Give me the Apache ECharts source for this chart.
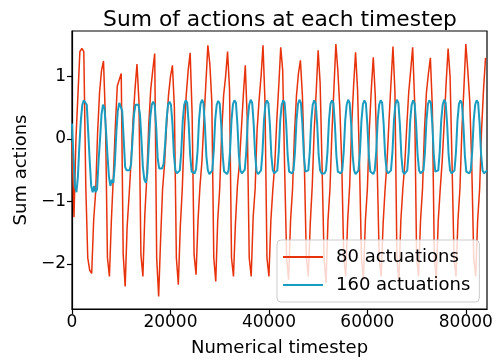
<!DOCTYPE html>
<html>
<head>
<meta charset="utf-8">
<script src="https://cdn.jsdelivr.net/npm/echarts@6/dist/echarts.min.js"></script>
<style>
  html, body { margin: 0; padding: 0; background: #fff; }
  #chart { width: 496px; height: 362px; }
</style>
</head>
<body>
<div id="chart"></div>
<script>
// Summed action signal, 80 actuations: one held value per 400 timesteps
const redStep = 400;
const actions80 = [
  -0.05, -1.25, 0.0, 0.7, 1.4, 1.45, 1.4, -0.75, -1.9, -2.1,
  -2.15, -1.3, -0.85, 0.1, 0.75, 1.1, 1.25, 0.3, -1.9, -2.2,
  -1.3, -0.6, 0.2, 0.85, 0.95, 1.05, -1.85, -2.36, -1.4, -0.9,
  -0.35, 0.3, 0.8, 1.2, 0.6, -1.85, -2.2, -1.2, -0.6, 0.25,
  0.8, 1.1, 1.37, -1.9, -2.52, -1.6, -0.8, -0.4, 0.2, 0.7,
  1.0, 1.18, 0.5, -1.9, -2.33, -1.4, -0.8, 0.1, 0.7, 1.1,
  1.38, 0.4, -1.85, -2.17, -1.3, -0.75, -0.35, 0.3, 0.9, 1.5,
  1.2, 0.6, -1.9, -2.28, -1.3, -0.8, 0.1, 0.7, 1.0, 1.4,
  0.8, -1.9, -2.2, -1.35, -0.75, -0.4, 0.15, 0.7, 1.18, 0.3,
  -1.9, -2.2, -1.25, -0.8, 0.15, 0.62, 1.0, 1.5, 0.6, -1.9,
  -2.2, -1.3, -0.8, -0.4, 0.3, 0.85, 1.47, 1.1, -0.5, -1.9,
  -2.25, -1.3, -0.8, 0.1, 0.7, 1.05, 1.26, 0.7, -0.4, -1.9,
  -2.2, -1.35, -0.75, 0.15, 0.75, 1.42, 0.9, -0.45, -1.9, -2.3,
  -1.3, -0.8, 0.1, 0.8, 1.52, 1.1, 0.5, -0.4, -1.9, -2.2,
  -1.3, -0.75, 0.2, 0.85, 1.39, 0.8, -0.4, -1.9, -2.25, -1.3,
  -0.8, 0.15, 0.8, 1.31, 0.7, -0.45, -1.9, -2.2, -1.35, -0.8,
  -0.35, 0.3, 0.9, 1.48, 0.75, -1.9, -2.3, -1.3, -0.8, -0.4,
  0.2, 0.75, 1.1, 1.47, 0.6, -1.9, -2.2, -1.3, -0.8, 0.15,
  0.75, 1.05, 1.3, 0.5, -1.9, -2.25, -1.3, -0.8, -0.35, 0.25,
  0.9, 1.45, 1.0, -0.4, -1.9, -2.2, -1.3, -0.8, 0.15, 0.8,
  1.52, 1.1, 0.6, -0.4, -1.9, -2.2, -1.3, -0.8, 0.15, 0.8,
  1.3
];

// Summed action signal, 160 actuations: one value per 300 timesteps
const blueStep = 300;
const actions160 = [
  0.25, -0.3, -0.75, -0.85, -0.6, -0.1, 0.3, 0.55, 0.62, 0.65,
  0.55, 0.1, -0.35, -0.75, -0.85, -0.75, -0.85, -0.8, -0.35, 0.0,
  0.4, 0.55, 0.5, 0.15, -0.25, -0.6, -0.75, -0.65, -0.7, -0.4,
  0.1, 0.45, 0.58, 0.6, 0.45, 0.0, -0.45, -0.5, -0.52, -0.5,
  -0.4, 0.0, 0.4, 0.55, 0.58, 0.55, 0.4, 0.0, -0.45, -0.65,
  -0.7, -0.55, -0.1, 0.35, 0.55, 0.6, 0.55, 0.2, -0.3, -0.47,
  -0.5, -0.47, -0.4, -0.1, 0.3, 0.55, 0.6, 0.55, 0.25,
  -0.25, -0.5, -0.55, -0.56, -0.5, -0.2, 0.3, 0.55, 0.62, 0.58, 0.25,
  -0.25, -0.52, -0.55, -0.55, -0.48, -0.2, 0.3, 0.56, 0.63, 0.58, 0.22,
  -0.28, -0.5, -0.56, -0.55, -0.5, -0.18, 0.32, 0.55, 0.61, 0.57, 0.25,
  -0.25, -0.52, -0.55, -0.56, -0.5, -0.2, 0.3, 0.56, 0.62, 0.58, 0.24,
  -0.26, -0.5, -0.55, -0.55, -0.49, -0.2, 0.3, 0.55, 0.63, 0.58, 0.25,
  -0.25, -0.52, -0.56, -0.55, -0.5, -0.2, 0.3, 0.56, 0.62, 0.57, 0.23,
  -0.27, -0.5, -0.55, -0.56, -0.5, -0.2, 0.3, 0.55, 0.62, 0.58, 0.25,
  -0.25, -0.52, -0.55, -0.55, -0.5, -0.2, 0.3, 0.56, 0.63, 0.58, 0.24,
  -0.26, -0.52, -0.55, -0.5, -0.2, 0.3, 0.55, 0.62, 0.57, 0.25,
  -0.25, -0.5, -0.55, -0.56, -0.55, -0.5, -0.2, 0.3, 0.56, 0.62, 0.58, 0.24,
  -0.26, -0.52, -0.55, -0.55, -0.5, -0.2, 0.3, 0.55, 0.63, 0.58, 0.25,
  -0.25, -0.5, -0.56, -0.55, -0.5, -0.2, 0.3, 0.56, 0.62, 0.57, 0.23,
  -0.27, -0.52, -0.55, -0.56, -0.5, -0.2, 0.3, 0.55, 0.62, 0.58, 0.25,
  -0.25, -0.5, -0.55, -0.55, -0.5, -0.2, 0.3, 0.56, 0.63, 0.58, 0.24,
  -0.26, -0.52, -0.56, -0.55, -0.5, -0.2, 0.3, 0.55, 0.62, 0.57, 0.25,
  -0.25, -0.5, -0.55, -0.56, -0.5, -0.2, 0.3, 0.56, 0.62, 0.58, 0.23,
  -0.27, -0.52, -0.55, -0.5, -0.2, 0.3, 0.55, 0.63, 0.58, 0.25,
  -0.25, -0.5, -0.55, -0.56, -0.5, -0.2, 0.3, 0.56, 0.62, 0.57, 0.24,
  -0.26, -0.52, -0.55, -0.55, -0.5, -0.2, 0.3, 0.55, 0.62, 0.58, 0.25,
  -0.25, -0.5, -0.55, -0.55, -0.5
];

const seriesNames = ['80 actuations', '160 actuations'];
const xTicks = [0, 20000, 40000, 60000, 80000];
const yTicks = [-2, -1, 0, 1];

const font = 'DejaVu Sans';
const chart = echarts.init(document.getElementById('chart'), null, { renderer: 'canvas' });

chart.setOption({
  animation: false,
  backgroundColor: '#ffffff',
  title: {
    text: 'Sum of actions at each timestep',
    left: 275, top: 4, textAlign: 'center',
    textStyle: { fontFamily: font, fontSize: 21.8, fontWeight: 'normal', color: '#000' }
  },
  grid: {
    left: 72, right: 9, top: 31, bottom: 52,
    show: true, borderColor: '#000', borderWidth: 1.2, backgroundColor: 'transparent'
  },
  legend: {
    orient: 'vertical', left: 277, top: 240,
    data: seriesNames,
    icon: 'rect', itemWidth: 40, itemHeight: 2, itemGap: 6,
    padding: [6, 9, 6, 6],
    backgroundColor: 'rgba(255,255,255,0.8)',
    borderColor: '#cccccc', borderWidth: 1, borderRadius: 4,
    textStyle: { fontFamily: font, fontSize: 18, color: '#000', lineHeight: 22, padding: [0, 0, 0, 8] }
  },
  xAxis: {
    type: 'value', min: 0, max: 84300,
    name: 'Numerical timestep', nameLocation: 'middle', nameGap: 30,
    nameTextStyle: { fontFamily: font, fontSize: 18, color: '#000' },
    axisLine: { show: true, onZero: false, lineStyle: { color: '#000', width: 1.2 } },
    axisTick: { show: true, length: 5, customValues: xTicks, lineStyle: { color: '#000', width: 1.2 } },
    axisLabel: { customValues: xTicks, fontFamily: font, fontSize: 17, color: '#000', margin: 5,
      formatter: v => String(v) },
    splitLine: { show: false }
  },
  yAxis: {
    type: 'value', min: -2.72, max: 1.73,
    name: 'Sum actions', nameLocation: 'middle', nameGap: 40, nameRotate: 90,
    nameTextStyle: { fontFamily: font, fontSize: 18, color: '#000' },
    axisLine: { show: true, onZero: false, lineStyle: { color: '#000', width: 1.2 } },
    axisTick: { show: true, length: 5, customValues: yTicks, lineStyle: { color: '#000', width: 1.2 } },
    axisLabel: { customValues: yTicks, fontFamily: font, fontSize: 17, color: '#000', margin: 6,
      formatter: v => (v < 0 ? '\u2212' + Math.abs(v) : String(v)) },
    splitLine: { show: false }
  },
  series: [
    {
      name: seriesNames[0], type: 'line', step: 'end', showSymbol: false,
      color: '#e8320c',
      lineStyle: { width: 1.5, color: '#e8320c' },
      data: actions80.map((v, i) => [i * redStep, v])
    },
    {
      name: seriesNames[1], type: 'line', showSymbol: false,
      color: '#1a9cc0',
      lineStyle: { width: 2, color: '#1a9cc0' },
      data: actions160.map((v, i) => [i * blueStep, v])
    }
  ]
});
</script>
</body>
</html>
